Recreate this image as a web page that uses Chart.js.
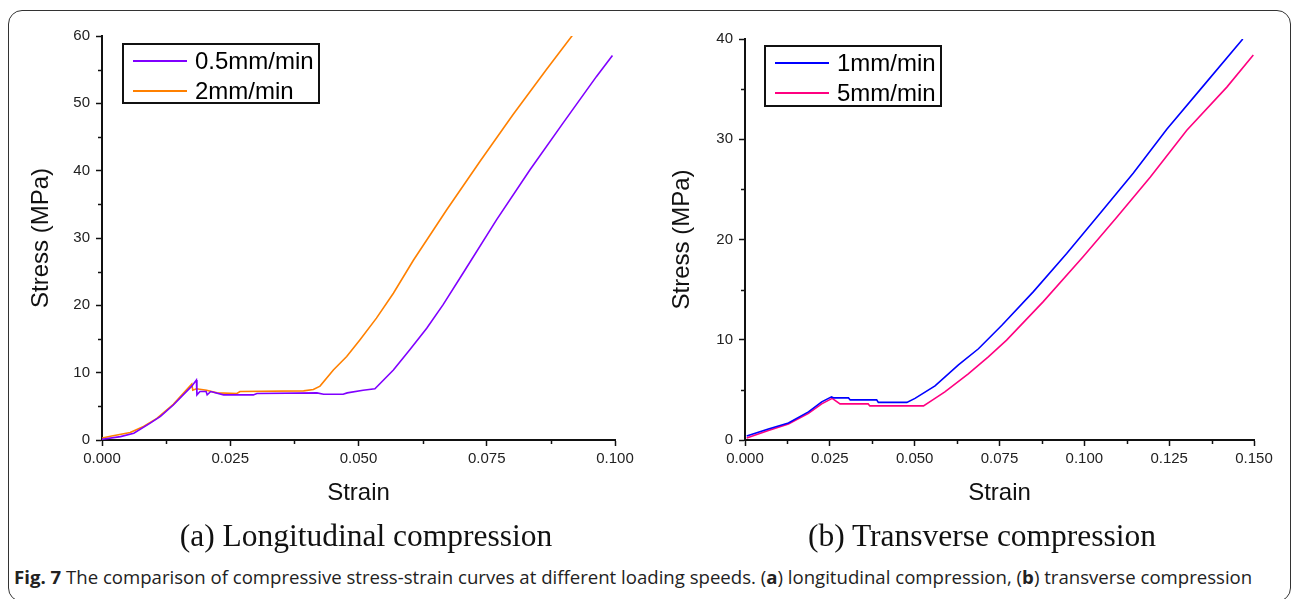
<!DOCTYPE html>
<html>
<head>
<meta charset="utf-8">
<script src="https://cdn.jsdelivr.net/npm/chart.js@4.4.1/dist/chart.umd.min.js"></script>
<style>
  body { margin: 0; width: 1293px; height: 599px; position: relative; overflow: hidden; background: #fff; font-family: "Liberation Sans", Arial, sans-serif; }
  .frame { position: absolute; left: 8px; top: 10px; width: 1283px; height: 592px; border: 1.5px solid #333; border-radius: 14px; box-sizing: border-box; }
  canvas { position: absolute; top: 0; }
  #chartA { left: 0; }
  #chartB { left: 640px; }
  .legend { position: absolute; border: 2px solid #111; box-sizing: border-box; background: #fff; }
  .legend .row { position: absolute; left: 0; height: 30px; display: flex; align-items: center; }
  .legend .swatch { width: 54px; height: 2px; margin-left: 9px; margin-right: 8px; }
  .legend .txt { font-size: 24px; color: #000; line-height: 30px; }
  .sub { position: absolute; top: 518px; font-family: "Liberation Serif", "Times New Roman", serif; font-size: 31.5px; color: #111; white-space: nowrap; transform: translateX(-50%); }
  .caption { position: absolute; left: 14px; top: 564px; font-family: "Open Sans", "Noto Sans", sans-serif; font-size: 18.6px; color: #222; white-space: nowrap; }
  .caption b { font-weight: 700; }
</style>
</head>
<body>
<div class="frame"></div>
<canvas id="chartA" width="640" height="520"></canvas>
<canvas id="chartB" width="653" height="520"></canvas>
<div class="legend" id="legendA" style="left:122px; top:43px; width:198px; height:61px;"></div>
<div class="legend" id="legendB" style="left:764px; top:45px; width:178px; height:62px;"></div>
<div class="sub" style="left:366px;">(a) Longitudinal compression</div>
<div class="sub" style="left:982px;">(b) Transverse compression</div>
<div class="caption"><b>Fig. 7</b> The comparison of compressive stress-strain curves at different loading speeds. (<b>a</b>) longitudinal compression, (<b>b</b>) transverse compression</div>

<script>
// (a) longitudinal compression
const labelsA = ['0.5mm/min', '2mm/min'];
const strainA05 = [0, 0.0036, 0.0062, 0.0094, 0.0114, 0.0139, 0.0175, 0.0184, 0.0185, 0.0191, 0.0203, 0.0205, 0.0212, 0.0237, 0.0295, 0.0302, 0.0419, 0.0432, 0.047, 0.0478, 0.0509, 0.0532, 0.0568, 0.0600, 0.0633, 0.0665, 0.0704, 0.0769, 0.0834, 0.0899, 0.0964, 0.0995];
const stressA05 = [0.1, 0.5, 1.0, 2.5, 3.5, 5.2, 8.0, 8.9, 6.7, 7.2, 7.2, 6.7, 7.2, 6.7, 6.7, 6.9, 7.0, 6.8, 6.8, 7.0, 7.4, 7.6, 10.4, 13.4, 16.6, 20.1, 24.8, 32.7, 40.1, 47.1, 54.0, 57.1];
const strainA2 = [0, 0.0019, 0.0055, 0.0081, 0.0107, 0.0139, 0.0175, 0.0177, 0.0184, 0.0204, 0.0224, 0.0263, 0.0269, 0.0393, 0.0412, 0.0425, 0.0451, 0.0477, 0.0503, 0.0535, 0.0568, 0.0607, 0.0672, 0.0737, 0.0801, 0.0866, 0.0918];
const stressA2 = [0.3, 0.6, 1.1, 2.0, 3.2, 5.3, 8.3, 7.4, 7.6, 7.4, 7.0, 6.9, 7.2, 7.3, 7.5, 8.0, 10.4, 12.4, 14.9, 18.1, 21.8, 26.7, 34.2, 41.4, 48.3, 55.0, 60.2];
const xMinorA = [0.0125, 0.0375, 0.0625, 0.0875];
const yMinorA = [5, 15, 25, 35, 45, 55];

// (b) transverse compression
const labelsB = ['1mm/min', '5mm/min'];
const strainB1 = [0.0005, 0.0069, 0.0128, 0.0187, 0.0226, 0.0255, 0.0262, 0.0305, 0.031, 0.0388, 0.0393, 0.0477, 0.0501, 0.056, 0.0629, 0.0688, 0.0757, 0.085, 0.0948, 0.1046, 0.1144, 0.1243, 0.1355, 0.1467];
const stressB1 = [0.4, 1.1, 1.7, 2.8, 3.8, 4.3, 4.2, 4.2, 4.0, 4.0, 3.75, 3.75, 4.15, 5.4, 7.5, 9.1, 11.45, 14.8, 18.6, 22.6, 26.6, 31.0, 35.5, 40.0];
const strainB5 = [0.0005, 0.0069, 0.0128, 0.0187, 0.0226, 0.0257, 0.028, 0.0363, 0.0368, 0.0526, 0.056, 0.0589, 0.0658, 0.0717, 0.0771, 0.0879, 0.0997, 0.1095, 0.1194, 0.1302, 0.142, 0.1498];
const stressB5 = [0.2, 0.95, 1.6, 2.65, 3.6, 4.15, 3.6, 3.6, 3.4, 3.4, 4.15, 4.8, 6.6, 8.3, 9.96, 13.8, 18.3, 22.2, 26.2, 30.9, 35.2, 38.4];
const xMinorB = [0.0125, 0.0375, 0.0625, 0.0875, 0.1125, 0.1375];
const yMinorB = [5, 15, 25, 35];

const colorsA = ['#8000ff', '#ff8000'];
const colorsB = ['#0000ff', '#ff0080'];

const toPoints = (xs, ys) => xs.map((x, i) => ({ x: x, y: ys[i] }));

// short minor ticks between the labelled ones
const minorTicks = {
    id: 'minorTicks',
    afterDraw(chart, args, opts) {
        const { ctx, scales: { x, y } } = chart;
        ctx.save();
        ctx.strokeStyle = '#111';
        ctx.lineWidth = 1.5;
        opts.xs.forEach(v => {
            const px = Math.round(x.getPixelForValue(v)) + 0.5;
            ctx.beginPath(); ctx.moveTo(px, x.top); ctx.lineTo(px, x.top + 4); ctx.stroke();
        });
        opts.ys.forEach(v => {
            const py = Math.round(y.getPixelForValue(v)) + 0.5;
            ctx.beginPath(); ctx.moveTo(y.right, py); ctx.lineTo(y.right - 4, py); ctx.stroke();
        });
        ctx.restore();
    }
};

function axisCommon() {
    return {
        grid: { display: true, drawOnChartArea: false, drawTicks: true, tickLength: 6, tickColor: '#111', tickWidth: 1.5 },
        border: { display: true, color: '#111', width: 2 },
        ticks: { color: '#222', font: { family: "'Liberation Sans', Arial", size: 15 } }
    };
}

function makeChart(id, cfg) {
    const xAxis = axisCommon();
    xAxis.type = 'linear';
    xAxis.min = 0;
    xAxis.max = cfg.xMax;
    xAxis.ticks.stepSize = 0.025;
    xAxis.ticks.padding = 4;
    xAxis.ticks.maxRotation = 0;
    xAxis.ticks.callback = v => v.toFixed(3);
    xAxis.title = { display: true, text: 'Strain', color: '#111', font: { family: "'Liberation Sans', Arial", size: 24 }, padding: { top: 0, bottom: 12 } };
    xAxis.afterFit = s => { s.height = 80; };

    const yAxis = axisCommon();
    yAxis.min = 0;
    yAxis.max = cfg.yMax;
    yAxis.ticks.stepSize = 10;
    yAxis.ticks.padding = 6;
    yAxis.title = { display: true, text: 'Stress (MPa)', color: '#111', font: { family: "'Liberation Sans', Arial", size: 24 }, padding: { top: cfg.yTitlePad, bottom: 0 } };
    yAxis.afterFit = s => { s.width = cfg.yWidth; };

    return new Chart(document.getElementById(id), {
        type: 'scatter',
        data: {
            datasets: cfg.series.map((s, i) => ({
                label: cfg.labels[i],
                data: toPoints(s[0], s[1]),
                showLine: true,
                borderColor: cfg.colors[i],
                backgroundColor: cfg.colors[i],
                borderWidth: 1.6,
                pointRadius: 0,
                tension: 0
            }))
        },
        options: {
            responsive: false,
            animation: false,
            layout: { padding: { top: cfg.top, right: cfg.right, left: 0, bottom: 0 } },
            plugins: {
                legend: { display: false },
                tooltip: { enabled: false },
                minorTicks: { xs: cfg.xMinor, ys: cfg.yMinor }
            },
            scales: { x: xAxis, y: yAxis }
        },
        plugins: [minorTicks]
    });
}

function fillLegend(id, labels, colors) {
    const box = document.getElementById(id);
    labels.forEach((label, i) => {
        const row = document.createElement('div');
        row.className = 'row';
        row.style.top = (1 + i * 30) + 'px';
        row.innerHTML = '<div class="swatch" style="background:' + colors[i] + '"></div><span class="txt">' + label + '</span>';
        box.appendChild(row);
    });
}

makeChart('chartA', {
    labels: labelsA, colors: colorsA,
    series: [[strainA05, stressA05], [strainA2, stressA2]],
    xMax: 0.1, yMax: 60, xMinor: xMinorA, yMinor: yMinorA,
    top: 36, right: 25, yWidth: 102, yTitlePad: 27
});
makeChart('chartB', {
    labels: labelsB, colors: colorsB,
    series: [[strainB1, stressB1], [strainB5, stressB5]],
    xMax: 0.15, yMax: 40, xMinor: xMinorB, yMinor: yMinorB,
    top: 39, right: 39, yWidth: 105, yTitlePad: 28
});
fillLegend('legendA', labelsA, colorsA);
fillLegend('legendB', labelsB, colorsB);
</script>
</body>
</html>
